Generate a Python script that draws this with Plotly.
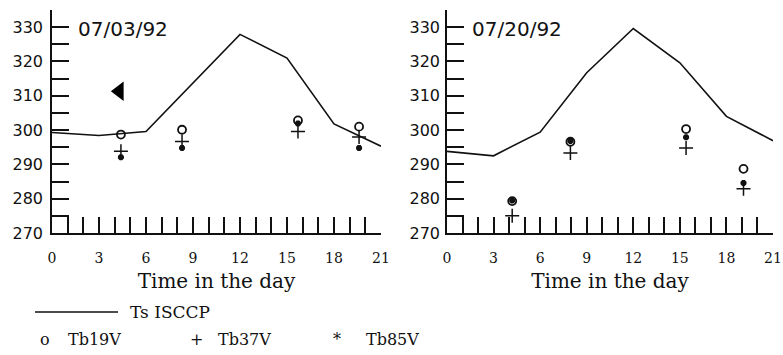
import plotly.graph_objects as go

W, H = 783, 355

# Surface temperature from ISCCP (3-hourly) for each day
hours_line = [0, 3, 6, 9, 12, 15, 18, 21]
ts_isccp_0703 = [299.3, 298.4, 299.6, 313.6, 327.9, 321.0, 301.8, 295.3]
ts_isccp_0720 = [293.8, 292.5, 299.4, 316.7, 329.6, 319.6, 304.0, 296.9]

# SSM/I overpass times and brightness temperatures
hours_0703 = [4.4, 8.3, 15.7, 19.6]
tb19v_0703 = [298.7, 300.1, 302.8, 301.0]
tb37v_0703 = [293.8, 296.7, 299.6, 298.0]
tb85v_0703 = [292.1, 294.8, 301.9, 294.8]

hours_0720 = [4.2, 7.95, 15.4, 19.1]
tb19v_0720 = [279.3, 296.6, 300.3, 288.7]
tb37v_0720 = [275.0, 293.3, 294.8, 282.9]
tb85v_0720 = [279.5, 296.8, 297.9, 284.6]

# pointer mark on the first panel
pointer_hour = [4.3]
pointer_val = [311.3]

dates = ["07/03/92", "07/20/92"]
x_ticks = [0, 3, 6, 9, 12, 15, 18, 21]
y_ticks = [270, 280, 290, 300, 310, 320, 330]

fig = go.Figure()

def px(x):
    return x / W

def py(y):
    return 1 - y / H

panels = [
    (ts_isccp_0703, hours_0703, tb19v_0703, tb37v_0703, tb85v_0703, "x", "y"),
    (ts_isccp_0720, hours_0720, tb19v_0720, tb37v_0720, tb85v_0720, "x2", "y2"),
]

for ts, hrs, t19, t37, t85, xa, ya in panels:
    fig.add_trace(go.Scatter(x=hours_line, y=ts, mode="lines",
                             line=dict(color="#111", width=1.6),
                             xaxis=xa, yaxis=ya, showlegend=False))
    fig.add_trace(go.Scatter(x=hrs, y=t19, mode="markers",
                             marker=dict(symbol="circle-open", size=8,
                                         color="#111", line=dict(width=1.8)),
                             xaxis=xa, yaxis=ya, showlegend=False))
    fig.add_trace(go.Scatter(x=hrs, y=t37, mode="markers",
                             marker=dict(symbol="cross-thin-open", size=10,
                                         color="#111", line=dict(width=1.5)),
                             xaxis=xa, yaxis=ya, showlegend=False))
    fig.add_trace(go.Scatter(x=hrs, y=t85, mode="markers",
                             marker=dict(symbol="asterisk-open", size=5,
                                         color="#111", line=dict(width=2.4)),
                             xaxis=xa, yaxis=ya, showlegend=False))

fig.add_trace(go.Scatter(x=pointer_hour, y=pointer_val, mode="markers",
                         marker=dict(symbol="triangle-left", size=17, color="#000"),
                         xaxis="x", yaxis="y", showlegend=False))

tick_font_x = dict(family="DejaVu Serif", size=14, color="#111")
tick_font_y = dict(family="DejaVu Sans", size=16, color="#111")
title_font = dict(family="DejaVu Serif", size=20, color="#111")

def xaxis_cfg(domain, anchor):
    return dict(domain=domain, range=[0, 21], tickvals=x_ticks, anchor=anchor,
                ticks="inside", ticklen=16, tickwidth=1.5, tickcolor="#111",
                minor=dict(dtick=1, tick0=0, ticks="inside", ticklen=16,
                           tickwidth=1.5, tickcolor="#111"),
                showline=True, linecolor="#111", linewidth=1.6,
                showgrid=False, zeroline=False, tickfont=tick_font_x,
                ticklabelstandoff=11, automargin=False,
                title=dict(text="Time in the day", font=title_font, standoff=9))

def yaxis_cfg(domain, anchor, standoff):
    return dict(domain=domain, range=[270, 335], tickvals=y_ticks, anchor=anchor,
                ticks="inside", ticklen=17, tickwidth=1.5, tickcolor="#111",
                minor=dict(dtick=5, tick0=270, ticks="inside", ticklen=17,
                           tickwidth=1.5, tickcolor="#111"),
                showline=True, linecolor="#111", linewidth=1.6,
                showgrid=False, zeroline=False, tickfont=tick_font_y,
                ticklabelstandoff=standoff, automargin=False)

y_dom = [py(233), py(10)]
fig.update_layout(
    margin=dict(l=0, r=0, t=0, b=0, autoexpand=False),
    paper_bgcolor="white", plot_bgcolor="white",
    xaxis=xaxis_cfg([px(52), px(381)], "y"),
    yaxis=yaxis_cfg(y_dom, "x", 4),
    xaxis2=xaxis_cfg([px(447), px(773)], "y2"),
    yaxis2=yaxis_cfg(y_dom, "x2", 2),
)

# date labels inside each panel
for date, (xr, yr) in zip(dates, [("x domain", "y domain"), ("x2 domain", "y2 domain")]):
    fig.add_annotation(text=date, xref=xr, yref=yr, x=0.072, y=0.915,
                       xanchor="left", yanchor="middle", showarrow=False,
                       font=dict(family="DejaVu Sans", size=20, color="#111"))

# legend block below the panels
leg_font = dict(family="DejaVu Serif", size=16, color="#111")
fig.add_shape(type="line", xref="paper", yref="paper",
              x0=px(35), x1=px(118), y0=py(312), y1=py(312),
              line=dict(color="#111", width=1.4))
legend_items = [
    ("Ts ISCCP", 128, 312, 17),
    ("o", 38, 339, 16), ("Tb19V", 66, 339, 16),
    ("+", 188, 339, 16), ("Tb37V", 216, 339, 16),
    ("*", 331, 339, 16), ("Tb85V", 364, 339, 16),
]
for txt, x, y, size in legend_items:
    fig.add_annotation(text=txt, xref="paper", yref="paper", x=px(x), y=py(y),
                       xanchor="left", yanchor="middle", showarrow=False,
                       font=leg_font | dict(size=size))

fig.write_html("out.html", default_width="100vw", default_height="100vh")
